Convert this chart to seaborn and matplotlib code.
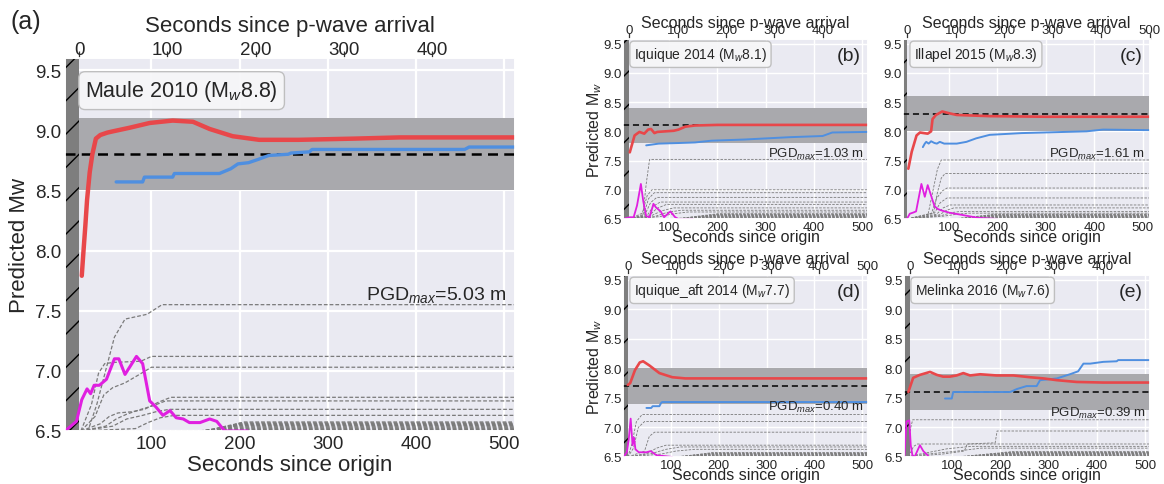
import matplotlib
matplotlib.use("Agg")
import matplotlib.pyplot as plt
import seaborn as sns

# ------------------------------------------------------------------ data
event_names = ["Maule 2010", "Iquique 2014", "Illapel 2015", "Iquique_aft 2014", "Melinka 2016"]
event_mw = [8.8, 8.1, 8.3, 7.7, 7.6]
pgd_max = ["5.03", "1.03", "1.61", "0.40", "0.39"]
panel_labels = ["(a)", "(b)", "(c)", "(d)", "(e)"]
pwave_arrival = [18, 18, 14, 10, 12]
bottom_ticks = [100, 200, 300, 400, 500]
top_ticks = [[0, 100, 200, 300, 400], [0, 100, 200, 300, 400], [0, 100, 200, 300, 400, 500],
             [0, 100, 200, 300, 400, 500], [0, 100, 200, 300, 400]]
y_ticks = [6.5, 7.0, 7.5, 8.0, 8.5, 9.0, 9.5]

# (a) Maule
a_red_t = [21, 23, 25, 27, 30, 33, 37, 42, 50, 56, 75, 98, 124, 147, 166, 192, 222, 267, 330, 381, 512]
a_red_v = [7.79, 8.0, 8.2, 8.42, 8.65, 8.8, 8.93, 8.96, 8.98, 8.99, 9.02, 9.06, 9.08, 9.07, 9.01, 8.95, 8.92, 8.92, 8.93, 8.94, 8.94]
a_blue_t = [60, 90, 92, 124, 126, 177, 190, 198, 210, 222, 233, 255, 258, 279, 282, 455, 460, 512]
a_blue_v = [8.57, 8.57, 8.61, 8.61, 8.64, 8.64, 8.68, 8.72, 8.73, 8.76, 8.79, 8.80, 8.81, 8.82, 8.84, 8.84, 8.86, 8.86]
a_mag_t = [2, 15, 21, 27, 31, 35, 41, 49, 58, 63, 70, 83, 90, 98, 105, 113, 121, 128, 136, 143, 155, 166, 174, 183, 209]
a_mag_v = [6.5, 6.58, 6.76, 6.85, 6.81, 6.88, 6.88, 6.93, 7.1, 7.1, 6.97, 7.12, 7.06, 6.75, 6.7, 6.63, 6.67, 6.61, 6.6, 6.57, 6.57, 6.6, 6.58, 6.5, 6.5]
a_gray_t = [[20, 28, 38, 48, 58, 70, 95, 112, 512],
            [20, 32, 40, 47, 57, 88, 100, 512],
            [20, 36, 46, 56, 70, 84, 100, 512],
            [20, 42, 52, 62, 78, 92, 108, 122, 512],
            [20, 48, 60, 72, 88, 102, 116, 512],
            [20, 56, 72, 90, 105, 120, 512],
            [20, 82, 96, 110, 126, 512]]
a_gray_v = [[6.5, 6.5, 6.72, 7.0, 7.28, 7.43, 7.47, 7.55, 7.55],
            [6.5, 6.72, 6.98, 7.06, 7.07, 7.08, 7.12, 7.12],
            [6.5, 6.62, 6.8, 6.86, 6.9, 6.96, 7.03, 7.03],
            [6.5, 6.56, 6.62, 6.65, 6.66, 6.68, 6.74, 6.78, 6.78],
            [6.5, 6.54, 6.6, 6.64, 6.68, 6.71, 6.75, 6.75],
            [6.5, 6.54, 6.6, 6.63, 6.66, 6.68, 6.68],
            [6.5, 6.52, 6.57, 6.61, 6.63, 6.63]]
a_dense_lvl = [6.505, 6.512, 6.519, 6.526, 6.533, 6.540, 6.547, 6.554, 6.561, 6.568, 6.575]
a_dense_t0 = [150, 153, 156, 160, 163, 166, 170, 173, 176, 180, 183]
a_dense_t1 = [165, 168, 172, 176, 180, 184, 188, 192, 196, 200, 204]

# (b) Iquique
b_red_t = [19, 29, 39, 49, 57, 63, 70, 76, 93, 110, 120, 134, 154, 200, 300, 512]
b_red_v = [7.64, 7.93, 7.99, 7.96, 8.03, 8.04, 7.97, 7.99, 8.0, 8.01, 8.03, 8.08, 8.1, 8.11, 8.11, 8.11]
b_blue_t = [53, 79, 120, 154, 188, 256, 350, 418, 438, 512]
b_blue_v = [7.76, 7.79, 7.80, 7.81, 7.84, 7.86, 7.9, 7.92, 7.98, 7.99]
b_mag_t = [5, 19, 27, 34, 42, 47, 53, 60, 68, 73, 83, 90, 103, 113, 120, 150]
b_mag_v = [6.5, 6.53, 6.53, 6.73, 7.1, 6.8, 6.55, 6.53, 6.76, 6.7, 6.63, 6.53, 6.63, 6.53, 6.5, 6.5]
b_gray_t = [[18, 46, 53, 60, 512], [18, 45, 55, 65, 512], [18, 48, 58, 70, 512], [18, 50, 62, 75, 512],
            [18, 55, 68, 82, 512], [18, 58, 75, 95, 512], [18, 62, 85, 110, 512], [18, 70, 95, 125, 512],
            [18, 80, 110, 140, 512]]
b_gray_v = [[6.5, 6.55, 7.1, 7.52, 7.52], [6.5, 6.6, 6.9, 7.0, 7.0], [6.5, 6.58, 6.85, 6.95, 6.95],
            [6.5, 6.57, 6.78, 6.87, 6.87], [6.5, 6.56, 6.72, 6.79, 6.79], [6.5, 6.55, 6.68, 6.75, 6.75],
            [6.5, 6.55, 6.64, 6.69, 6.69], [6.5, 6.54, 6.61, 6.65, 6.65], [6.5, 6.54, 6.59, 6.62, 6.62]]
b_dense_lvl = [6.51, 6.518, 6.526, 6.534, 6.542, 6.55, 6.558, 6.566, 6.574, 6.582, 6.59]
b_dense_t0 = [100, 108, 116, 124, 132, 140, 148, 156, 164, 172, 180]
b_dense_t1 = [120, 128, 136, 144, 152, 160, 168, 176, 184, 192, 200]

# (c) Illapel
c_red_t = [16, 23, 33, 40, 56, 63, 66, 73, 86, 100, 116, 184, 300, 515]
c_red_v = [7.36, 7.65, 7.93, 7.98, 7.96, 8.0, 8.21, 8.28, 8.34, 8.31, 8.28, 8.26, 8.25, 8.25]
c_blue_t = [46, 50, 53, 58, 63, 70, 75, 81, 90, 116, 136, 156, 184, 250, 384, 418, 515]
c_blue_v = [7.73, 7.79, 7.82, 7.79, 7.83, 7.8, 7.79, 7.82, 7.79, 7.79, 7.82, 7.88, 7.94, 7.97, 8.0, 8.03, 8.02]
c_mag_t = [5, 13, 19, 26, 32, 43, 50, 56, 63, 70, 77, 87, 100, 113, 127, 140, 160, 200]
c_mag_v = [6.5, 6.5, 6.59, 6.61, 6.63, 7.1, 6.88, 7.08, 6.9, 6.72, 6.67, 6.64, 6.61, 6.59, 6.57, 6.55, 6.52, 6.5]
c_gray_t = [[14, 56, 66, 76, 84, 515], [14, 68, 76, 84, 92, 515], [14, 64, 74, 86, 96, 515],
            [14, 70, 82, 96, 515], [14, 74, 88, 102, 515], [14, 80, 95, 110, 515],
            [14, 85, 105, 125, 515], [14, 90, 115, 140, 515]]
c_gray_v = [[6.5, 6.55, 6.95, 7.35, 7.51, 7.51], [6.5, 6.6, 6.95, 7.2, 7.28, 7.28],
            [6.5, 6.6, 6.85, 6.98, 7.03, 7.03], [6.5, 6.6, 6.78, 6.86, 6.86], [6.5, 6.58, 6.69, 6.74, 6.74],
            [6.5, 6.57, 6.65, 6.69, 6.69], [6.5, 6.56, 6.61, 6.63, 6.63], [6.5, 6.55, 6.58, 6.6, 6.6]]
c_dense_lvl = [6.51, 6.518, 6.526, 6.534, 6.542, 6.55, 6.558, 6.566, 6.574, 6.582]
c_dense_t0 = [100, 108, 116, 124, 132, 140, 148, 156, 164, 172]
c_dense_t1 = [120, 128, 136, 144, 152, 160, 168, 176, 184, 192]

# (d) Iquique aftershock
d_red_t = [10, 15, 25, 35, 42, 55, 76, 103, 130, 512]
d_red_v = [7.72, 7.75, 7.97, 8.1, 8.12, 8.05, 7.92, 7.85, 7.83, 7.83]
d_blue_t = [49, 59, 62, 65, 76, 80, 82, 512]
d_blue_v = [7.33, 7.33, 7.36, 7.36, 7.36, 7.42, 7.43, 7.43]
d_mag_t = [1, 8, 12, 16, 20, 23, 26, 33, 49, 58, 70, 103]
d_mag_v = [6.5, 6.58, 6.8, 7.15, 6.7, 6.83, 6.63, 6.58, 6.58, 6.6, 6.53, 6.5]
d_gray_t = [[10, 18, 28, 40, 512], [10, 22, 32, 45, 512], [10, 45, 55, 66, 512],
            [10, 50, 70, 90, 512], [10, 60, 90, 120, 512], [10, 80, 110, 150, 512]]
d_gray_v = [[6.5, 6.7, 7.1, 7.22, 7.22], [6.5, 6.65, 7.0, 7.1, 7.1], [6.5, 6.6, 6.85, 6.92, 6.92],
            [6.5, 6.56, 6.65, 6.7, 6.7], [6.5, 6.56, 6.63, 6.67, 6.67], [6.5, 6.55, 6.6, 6.63, 6.63]]
d_dense_lvl = [6.51, 6.518, 6.526, 6.534, 6.542, 6.55, 6.558, 6.566, 6.574]
d_dense_t0 = [100, 108, 116, 124, 132, 140, 148, 156, 164]
d_dense_t1 = [120, 128, 136, 144, 152, 160, 168, 176, 184]

# (e) Melinka
e_red_t = [9, 19, 33, 54, 68, 81, 95, 109, 123, 137, 158, 192, 227, 261, 289, 317, 358, 413, 510]
e_red_v = [7.6, 7.84, 7.89, 7.94, 7.89, 7.86, 7.86, 7.88, 7.92, 7.88, 7.9, 7.88, 7.88, 7.85, 7.83, 7.8, 7.77, 7.76, 7.76]
e_blue_t = [85, 99, 102, 220, 234, 254, 275, 282, 317, 344, 361, 372, 386, 413, 441, 444, 510]
e_blue_v = [7.49, 7.49, 7.6, 7.6, 7.65, 7.7, 7.7, 7.8, 7.83, 7.9, 7.95, 8.08, 8.08, 8.11, 8.12, 8.14, 8.14]
e_mag_t = [1, 5, 11, 14, 18, 23, 33, 40, 50]
e_mag_v = [6.5, 7.1, 7.12, 6.7, 6.5, 6.52, 6.7, 6.6, 6.52]
e_gray_t = [[0, 8, 14, 18, 510], [0, 12, 20, 28, 510], [0, 80, 125, 131, 189, 193, 510],
            [0, 40, 90, 140, 510], [0, 50, 110, 160, 510]]
e_gray_v = [[6.5, 6.6, 7.0, 7.13, 7.13], [6.5, 6.55, 6.68, 6.72, 6.72],
            [6.5, 6.55, 6.6, 6.72, 6.74, 6.94, 6.94], [6.5, 6.56, 6.64, 6.68, 6.68],
            [6.5, 6.55, 6.6, 6.65, 6.65]]
e_dense_lvl = [6.51, 6.518, 6.526, 6.534, 6.542, 6.55, 6.558, 6.566, 6.574, 6.582, 6.59]
e_dense_t0 = [100, 110, 120, 130, 140, 150, 160, 170, 180, 190, 200]
e_dense_t1 = [120, 130, 140, 150, 160, 170, 180, 190, 200, 210, 220]

# ------------------------------------------------------------------ style
sns.set_theme(style="darkgrid")
plt.rcParams["font.family"] = ["Liberation Sans", "DejaVu Sans"]
plt.rcParams["mathtext.fontset"] = "custom"
plt.rcParams["mathtext.rm"] = "Liberation Sans"
plt.rcParams["mathtext.it"] = "Liberation Sans:italic"
plt.rcParams["mathtext.bf"] = "Liberation Sans:bold"
plt.rcParams["hatch.linewidth"] = 1.0
plt.rcParams["hatch.color"] = "black"

RED = "#e8474a"
BLUE = "#4f8fe0"
MAG = "#e01fe0"
GRAYL = "#7a7a7a"
BAND = "#a9a9ad"
HATCH_FC = "#7e7e7e"
TXT = "#262626"

fig = plt.figure(figsize=(11.64, 4.85), dpi=100)
W, H = 1164.0, 485.0


def rect(l, t, r, b):
    return [l / W, (H - b) / H, (r - l) / W, (b - t) / H]


def line(ax, t, v, **kw):
    sns.lineplot(x=t, y=v, ax=ax, estimator=None, sort=False, legend=False, **kw)


big = dict(tick=13.5, lab=16, box=15.5, pgd=14, red=3.2, blue=2.4, mag=2.2, gray=0.9, blk=1.8,
           grid=1.6, xpad=3, ypad=2.5, xlabpad=1, toplabpad=7, ylabpad=4, toplen=5, toppad=-5, ylab=16,
           box_x=0.045, box_y=0.946)
small = dict(tick=9.5, lab=11.5, box=10, pgd=9.5, red=1.9, blue=1.4, mag=1.3, gray=0.6, blk=1.1,
             grid=1.0, xpad=1.5, ypad=1, xlabpad=-3, toplabpad=-2, ylabpad=-0.5, toplen=4, toppad=-2,
             ylab=11.5, box_x=0.045, box_y=0.965)

panels = [
    dict(i=0, rect=rect(65, 59, 515, 432), xlim=(2, 512), ytop=9.6, S=big,
         red=(a_red_t, a_red_v), blue=(a_blue_t, a_blue_v), mag=(a_mag_t, a_mag_v),
         gray=(a_gray_t, a_gray_v), dense=(a_dense_lvl, a_dense_t0, a_dense_t1),
         ylabel="Predicted Mw", pgd_y=7.555),
    dict(i=1, rect=rect(623, 40, 868, 220), xlim=(5, 512), ytop=9.58, S=small,
         red=(b_red_t, b_red_v), blue=(b_blue_t, b_blue_v), mag=(b_mag_t, b_mag_v),
         gray=(b_gray_t, b_gray_v), dense=(b_dense_lvl, b_dense_t0, b_dense_t1),
         ylabel="Predicted M$_w$", pgd_y=7.49),
    dict(i=2, rect=rect(903, 40, 1150, 220), xlim=(5, 515), ytop=9.58, S=small,
         red=(c_red_t, c_red_v), blue=(c_blue_t, c_blue_v), mag=(c_mag_t, c_mag_v),
         gray=(c_gray_t, c_gray_v), dense=(c_dense_lvl, c_dense_t0, c_dense_t1),
         ylabel=None, pgd_y=7.5),
    dict(i=3, rect=rect(623, 276, 868, 458), xlim=(0, 512), ytop=9.58, S=small,
         red=(d_red_t, d_red_v), blue=(d_blue_t, d_blue_v), mag=(d_mag_t, d_mag_v),
         gray=(d_gray_t, d_gray_v), dense=(d_dense_lvl, d_dense_t0, d_dense_t1),
         ylabel="Predicted M$_w$", pgd_y=7.22),
    dict(i=4, rect=rect(904, 276, 1150, 458), xlim=(0, 510), ytop=9.58, S=small,
         red=(e_red_t, e_red_v), blue=(e_blue_t, e_blue_v), mag=(e_mag_t, e_mag_v),
         gray=(e_gray_t, e_gray_v), dense=(e_dense_lvl, e_dense_t0, e_dense_t1),
         ylabel=None, pgd_y=7.13),
]

for P in panels:
    i = P["i"]
    S = P["S"]
    x0, x1 = P["xlim"]
    pw = pwave_arrival[i]
    mw = event_mw[i]
    ax = fig.add_axes(P["rect"])

    ax.axhspan(mw - 0.3, mw + 0.3, facecolor=BAND, edgecolor="none", zorder=1)
    for t, v in zip(*P["gray"]):
        line(ax, t, v, color=GRAYL, linewidth=S["gray"], linestyle=(0, (3, 1.6)), zorder=2)
    for lv, ta, tb in zip(*P["dense"]):
        line(ax, [pw, ta, tb, x1], [6.5, 6.5, lv, lv], color=GRAYL, linewidth=S["gray"],
             linestyle=(0, (3, 1.6)), zorder=2)
    ax.axvspan(x0, pw, facecolor=HATCH_FC, edgecolor="black", hatch="/", linewidth=0, zorder=2.5)
    line(ax, *P["mag"], color=MAG, linewidth=S["mag"], zorder=3)
    ax.axhline(mw, color="black", linewidth=S["blk"], linestyle=(0, (4, 2.5)), zorder=3.5)
    line(ax, *P["blue"], color=BLUE, linewidth=S["blue"], zorder=4)
    line(ax, *P["red"], color=RED, linewidth=S["red"], zorder=5)

    ax.set_xticks(bottom_ticks)
    ax.set_yticks(y_ticks)
    ax.set_yticklabels([f"{y:.1f}" for y in y_ticks])
    ax.set_xlim(x0, x1)
    ax.set_ylim(6.5, P["ytop"])
    ax.grid(True, color="white", linewidth=S["grid"])
    ax.tick_params(axis="x", labelsize=S["tick"], pad=S["xpad"], length=0, labelcolor=TXT)
    ax.tick_params(axis="y", labelsize=S["tick"], pad=S["ypad"], length=0, labelcolor=TXT)
    ax.set_xlabel("Seconds since origin", fontsize=S["lab"], labelpad=S["xlabpad"], color=TXT)
    if P["ylabel"]:
        ax.set_ylabel(P["ylabel"], fontsize=S["ylab"], labelpad=S["ylabpad"], color=TXT)
    else:
        ax.set_ylabel("")

    ax2 = ax.twiny()
    ax2.set_xticks(top_ticks[i])
    ax2.set_xlim(x0 - pw, x1 - pw)
    ax2.grid(False)
    ax2.tick_params(axis="x", top=True, direction="out", length=S["toplen"], width=0.9, color="#333333",
                    labelsize=S["tick"], pad=S["toppad"], labelcolor=TXT)
    ax2.set_xlabel("Seconds since p-wave arrival", fontsize=S["lab"], labelpad=S["toplabpad"], color=TXT)

    ax.text(S["box_x"], S["box_y"], f"{event_names[i]} (M$_w${mw})",
            transform=ax.transAxes, ha="left", va="top", fontsize=S["box"], color=TXT,
            zorder=10, bbox=dict(boxstyle="round,pad=0.3", fc="#f6f6f8", ec="#bdbdbd", lw=1.0, alpha=0.95))
    ax.text(0.982, P["pgd_y"], f"PGD$_{{max}}$={pgd_max[i]} m", transform=ax.get_yaxis_transform(),
            ha="right", va="bottom", fontsize=S["pgd"], color=TXT, zorder=10)
    if i > 0:
        ax.text(0.97, 0.955, panel_labels[i], transform=ax.transAxes, ha="right", va="top",
                fontsize=14, color=TXT, zorder=10)

fig.text(10 / W, 1 - 22 / H, panel_labels[0], ha="left", va="center", fontsize=18, color=TXT)

fig.savefig("out.png", dpi=100)
